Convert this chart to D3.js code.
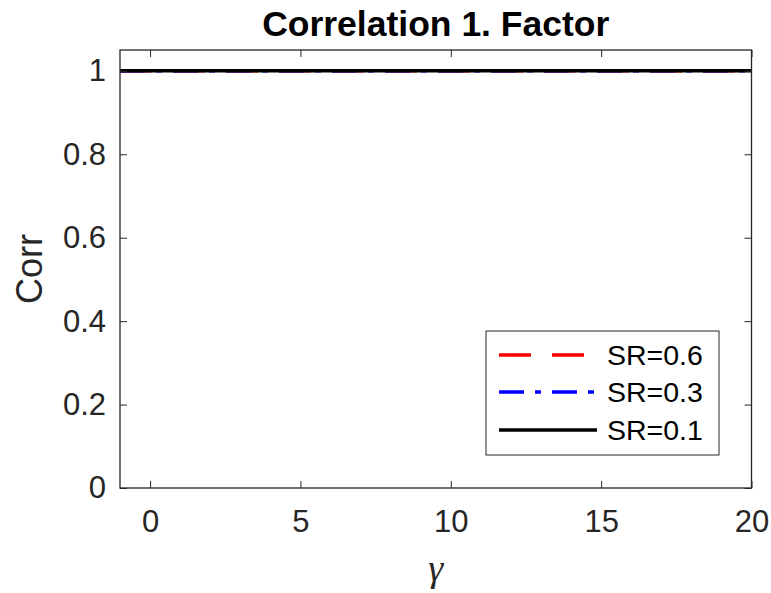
<!DOCTYPE html>
<html><head><meta charset="utf-8">
<script src="https://cdn.jsdelivr.net/npm/d3@7"></script>
<style>body{margin:0;background:#fff;} svg{display:block;font-family:Helvetica,"Liberation Sans",Arial,sans-serif;}</style>
</head><body>
<svg id="c" width="771" height="593"></svg>
<script>
const gamma = [-1,0,1,2,3,4,5,6,7,8,9,10,11,12,13,14,15,16,17,18,19,20];
const corrSR06 = [1,1,1,1,1,1,1,1,1,1,1,1,1,1,1,1,1,1,1,1,1,1];
const corrSR03 = [1,1,1,1,1,1,1,1,1,1,1,1,1,1,1,1,1,1,1,1,1,1];
const corrSR01 = [1,1,1,1,1,1,1,1,1,1,1,1,1,1,1,1,1,1,1,1,1,1];
const seriesNames = ["SR=0.6","SR=0.3","SR=0.1"];
const xTicks = [0,5,10,15,20];
const yTicks = [0,0.2,0.4,0.6,0.8,1];
const yTickLabels = ["0","0.2","0.4","0.6","0.8","1"];

const svg = d3.select("#c");
const L=120, R=751.5, T=50, B=488;
const x = d3.scaleLinear().domain([-1,20]).range([L,R]);
const y = d3.scaleLinear().domain([0,1.05]).range([B,T]);
const axCol = "#262626";
const FONT = "Helvetica,'Liberation Sans',Arial,sans-serif";

const series = [
  {name: seriesNames[0], vals: corrSR06, color: "#ff0000", dash: "32,21"},
  {name: seriesNames[1], vals: corrSR03, color: "#0000ff", dash: "25,11,6,11"},
  {name: seriesNames[2], vals: corrSR01, color: "#000000", dash: null}
];

const line = d3.line().x((d,i)=>x(gamma[i])).y(d=>y(d));
series.forEach(s=>{
  svg.append("path").attr("d", line(s.vals)).attr("fill","none")
    .attr("stroke", s.color).attr("stroke-width", 3.5)
    .attr("stroke-dasharray", s.dash);
});

// axes
const fs = 31;
const axB = d3.axisBottom(x).tickValues(xTicks).tickSize(-7).tickPadding(22).tickFormat(d3.format("d"));
const axT = d3.axisTop(x).tickValues(xTicks).tickSize(-7).tickFormat("");
const axL = d3.axisLeft(y).tickValues(yTicks).tickSize(-7).tickPadding(14).tickFormat((d,i)=>yTickLabels[i]);
const axR = d3.axisRight(y).tickValues(yTicks).tickSize(-7).tickFormat("");
function style(g){
  g.selectAll("path.domain").remove();
  g.selectAll("line").attr("stroke",axCol).attr("stroke-width",1);
  g.selectAll("text").attr("fill",axCol).style("font-size",fs+"px").style("font-family",FONT);
}
svg.append("g").attr("transform",`translate(0,${B})`).call(axB).call(style);
svg.append("g").attr("transform",`translate(0,${T})`).call(axT).call(style);
svg.append("g").attr("transform",`translate(${L},0)`).call(axL).call(style);
svg.append("g").attr("transform",`translate(${R},0)`).call(axR).call(style);
svg.append("rect").attr("x",L).attr("y",T).attr("width",R-L).attr("height",B-T)
  .attr("fill","none").attr("stroke",axCol).attr("stroke-width",1.3);

// title
svg.append("text").attr("x",(L+R)/2).attr("y",36).attr("text-anchor","middle")
  .style("font-size","35.5px").style("font-weight","bold").style("font-family",FONT).attr("fill","#000").text("Correlation 1. Factor");
// y label
svg.append("text").attr("transform",`translate(42,${(T+B)/2}) rotate(-90)`).attr("text-anchor","middle")
  .style("font-size","36px").style("font-family",FONT).attr("fill",axCol).text("Corr");
// x label
svg.append("text").attr("x",(L+R)/2).attr("y",581).attr("text-anchor","middle")
  .style("font-size","38px").style("font-style","italic").style("font-family","'Liberation Serif','Times New Roman',serif")
  .attr("fill",axCol).text("γ");

// legend
const lg = svg.append("g");
lg.append("rect").attr("x",486).attr("y",331).attr("width",233).attr("height",124)
  .attr("fill","#fff").attr("stroke",axCol).attr("stroke-width",1);
const rowsY = [355,392,430];
series.forEach((s,i)=>{
  lg.append("line").attr("x1",499).attr("x2",597).attr("y1",rowsY[i]).attr("y2",rowsY[i])
    .attr("stroke",s.color).attr("stroke-width",3.5).attr("stroke-dasharray",s.dash);
  lg.append("text").attr("x",607).attr("y",rowsY[i]+10).style("font-size","28.5px").style("font-family",FONT).attr("fill","#000").text(s.name);
});
</script>
</body></html>
